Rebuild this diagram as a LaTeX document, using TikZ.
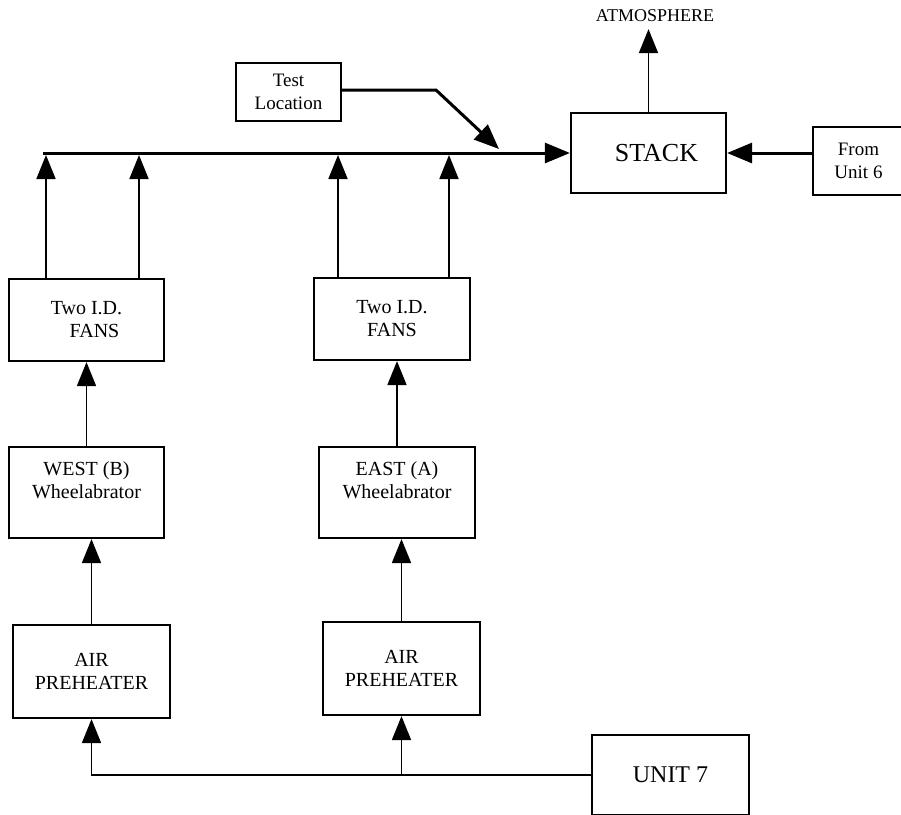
\documentclass[tikz,border=0pt]{standalone}
\usepackage{fontspec}
\setmainfont{Liberation Serif}
\usepackage{tikz}
\usetikzlibrary{arrows.meta,positioning}

\begin{document}
\begin{tikzpicture}[
  x=0.5pt, y=-0.5pt,
  box/.style={draw, line width=1.1pt, align=center, inner sep=2pt,
              font=\fontsize{10}{11.5}\selectfont},
  flow/.style={-{Triangle[length=12pt,width=9.5pt]}, line width=0.9pt},
  bus/.style={-{Triangle[length=12.5pt,width=10pt]}, line width=1.5pt},
]
\useasboundingbox (0,0) rectangle (901,815);

\node[box, minimum width=52.5pt, minimum height=29pt,
      font=\fontsize{9.5}{11.5}\selectfont] (test) at (288.5,92) {Test\\Location};
\node[box, minimum width=77.5pt, minimum height=40pt,
      font=\fontsize{13}{15}\selectfont] (stack) at (648.5,153) {\hspace*{8pt}\raisebox{-2.5pt}{STACK}};
\node[box, minimum width=45.5pt, minimum height=34pt,
      font=\fontsize{9.5}{11.5}\selectfont] (unitsix) at (858.5,161) {From\\Unit 6};
\node[font=\fontsize{9}{11}\selectfont] (atmo) at (655,16) {ATMOSPHERE};

\node[box, minimum width=77.5pt, minimum height=41pt] (westfans) at (86.5,320) {Two I.D.\\\hspace*{8pt}FANS};
\node[box, minimum width=78pt, minimum height=41pt] (eastfans) at (392,319) {Two I.D.\\FANS};
\node[box, minimum width=77.5pt, minimum height=45.5pt] (westwb) at (86.5,492.5) {WEST (B)\\Wheelabrator\\[1pt]~};
\node[box, minimum width=78pt, minimum height=45.5pt] (eastwb) at (397,492.5) {EAST (A)\\Wheelabrator\\[1pt]~};
\node[box, minimum width=78.5pt, minimum height=46.5pt] (westair) at (91.5,671.5) {AIR\\PREHEATER};
\node[box, minimum width=78.5pt, minimum height=46.5pt] (eastair) at (401.5,668.5) {AIR\\PREHEATER};
\node[box, minimum width=78.5pt, minimum height=40pt,
      font=\fontsize{12}{14}\selectfont] (unitseven) at (670.5,775) {UNIT 7};

\coordinate (busstart) at (43,153);
\foreach \n/\x in {a/46, b/139, c/338, d/449}
  \coordinate (tap\n) at (\x,155);
\coordinate (bend) at (436,90);
\coordinate (probe) at (499,149);

\draw[bus] (busstart) -- (stack.west);
\draw[flow] (westfans.north -| tapa) -- (tapa);
\draw[flow] (westfans.north -| tapb) -- (tapb);
\draw[flow] (eastfans.north -| tapc) -- (tapc);
\draw[flow] (eastfans.north -| tapd) -- (tapd);

\draw[bus] (test.east |- bend) -- (bend) -- (probe);
\draw[flow] (stack.north) -- (stack.north |- atmo.south);
\draw[bus] (unitsix.west |- stack.east) -- (stack.east);

\draw[flow] (westwb.north) -- (westwb.north |- westfans.south);
\draw[flow] (eastwb.north) -- (eastwb.north |- eastfans.south);
\draw[flow] (westair.north) -- (westair.north |- westwb.south);
\draw[flow] (eastair.north) -- (eastair.north |- eastwb.south);

\draw[flow] (unitseven.west) -| (westair.south);
\draw[flow] (unitseven.west -| eastair.south) -- (eastair.south);
\end{tikzpicture}
\end{document}
